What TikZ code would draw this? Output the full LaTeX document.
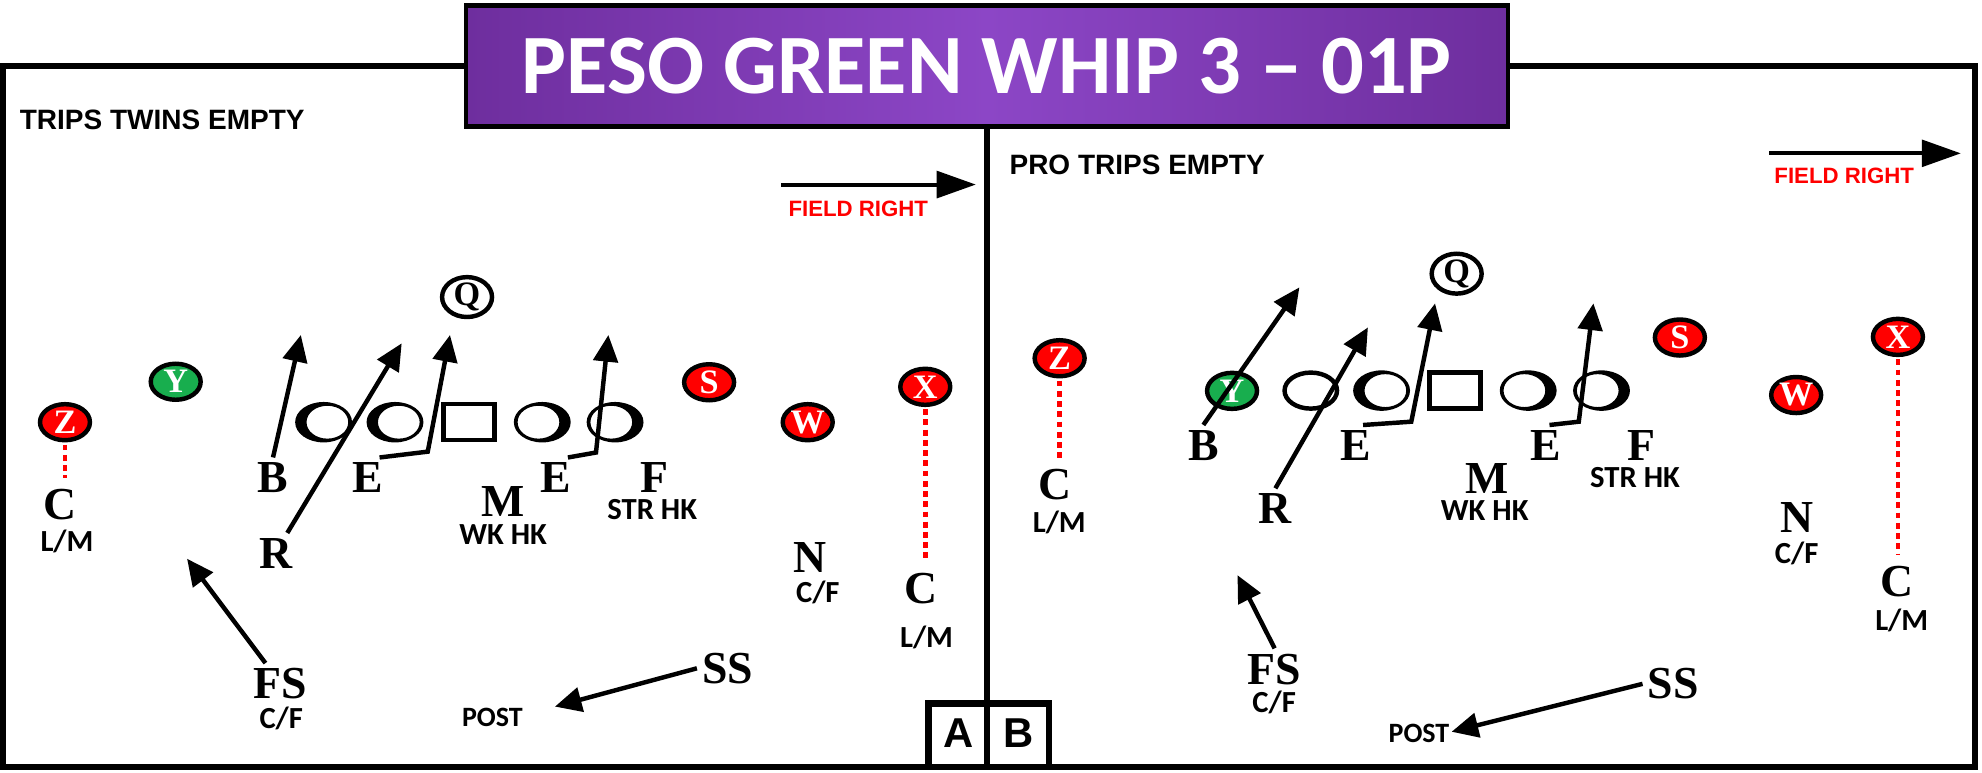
\documentclass[tikz,border=0pt]{standalone}
\usepackage{fontspec}
\usepackage{xcolor}
\usepackage{tikz}
\usetikzlibrary{arrows.meta, positioning, calc, shapes}

\newfontfamily\calfont{Carlito}
\newfontfamily\arialfont{Liberation Sans}
\newfontfamily\timesfont{Liberation Serif}

\definecolor{purpdark}{RGB}{110,46,158}
\definecolor{purplight}{RGB}{140,70,198}
\definecolor{defred}{RGB}{255,0,0}
\definecolor{offgreen}{RGB}{24,174,78}

\begin{document}
\begin{tikzpicture}[x=0.01cm,y=-0.01cm,
    player/.style={ellipse, draw, line width=1pt, minimum width=0.395cm, minimum height=0.285cm, inner sep=0pt, font=\fontsize{7.7}{8}\timesfont\bfseries},
    defender/.style={player, fill=defred, text=white},
    slot/.style={player, fill=offgreen, text=white},
    lineman/.style={ellipse, minimum width=0.45cm, minimum height=0.32cm, inner sep=0pt},
    snapbox/.style={rectangle, draw, line width=1pt, minimum width=0.405cm, minimum height=0.285cm, inner sep=0pt},
    letter/.style={inner sep=1pt, font=\fontsize{10.3}{11}\timesfont\bfseries},
    tag/.style={inner sep=0pt, font=\fontsize{6.9}{7}\calfont\bfseries},
    route/.style={line width=1pt, -{Triangle[length=6pt,width=5.5pt]}},
    fieldarrow/.style={line width=0.9pt, -{Triangle[length=8.8pt,width=6pt]}},
    fieldtag/.style={inner sep=0pt, text=defred, font=\fontsize{5}{6}\arialfont\bfseries},
    formation/.style={inner sep=0pt, anchor=west, font=\fontsize{6.3}{7}\arialfont\bfseries},
    dotline/.style={defred, line width=1.1pt, dash pattern=on 1.3pt off 1pt, shorten <=0.5pt, shorten >=1.5pt},
    frame/.style={line width=1.5pt},
    titlebox/.style={draw, line width=1pt, minimum width=8.24cm, minimum height=0.957cm, left color=purpdark, right color=purpdark, middle color=purplight, text=white, font=\fontsize{19}{20}\calfont\bfseries},
    abtag/.style={inner sep=0pt, font=\fontsize{9.4}{10}\arialfont\bfseries}]

    \useasboundingbox (0,0) rectangle (1568,611);

    % 标题
    \node[titlebox] (title) at (780.75,52.3) {PESO GREEN WHIP 3 – 01P};

    % 外框
    \coordinate (botline) at (0,606.8);
    \draw[frame] (title.west) -- (2.5,52.3) -- (2.5,606.8) -- (1562.5,606.8) -- (1562.5,52.3) -- (title.east);
    \draw[frame] (title.south) -- (title.south |- botline);

    % A / B
    \draw[frame] (734.4,606.8) -- (734.4,556.4) -- (829.8,556.4) -- (829.8,606.8);
    \node[abtag] (boxA) at (758.2,580.2) {A};
    \node[abtag] (boxB) at (805.6,580.2) {B};

    %%%%%%%% 左图
    \node[formation] (lform) at (15,95) {TRIPS TWINS EMPTY};
    \coordinate (lfs) at (618,146);
    \coordinate (lfe) at (772,146);
    \draw[fieldarrow] (lfs) -- (lfe);
    \node[fieldtag] (lfield) at (679,165) {FIELD RIGHT};

    % 进攻
    \node[player, fill=white] (lQ) at (369.5,235) {Q};
    \node[slot] (lY) at (139,302) {Y};
    \node[lineman] (lo1) at (256,334) {};
    \node[lineman] (lo2) at (312.5,334) {};
    \node[snapbox] (lsnap) at (371,334) {};
    \node[lineman] (lo3) at (429,334) {};
    \node[lineman] (lo4) at (486.6,334) {};
    \fill[even odd rule] (lo1.center) ellipse (22.5 and 16) ([xshift=0.03cm]lo1.center) ellipse (16.5 and 13);
    \fill[even odd rule] (lo2.center) ellipse (22.5 and 16) ([xshift=0.03cm]lo2.center) ellipse (16.5 and 13);
    \fill[even odd rule] (lo3.center) ellipse (22.5 and 16) ([xshift=-0.03cm]lo3.center) ellipse (16.5 and 13);
    \fill[even odd rule] (lo4.center) ellipse (22.5 and 16) ([xshift=-0.03cm]lo4.center) ellipse (16.5 and 13);

    % 防守
    \node[defender] (lZ) at (51.4,334) {Z};
    \node[defender] (lS) at (561,302.4) {S};
    \node[defender] (lW) at (639,334) {W};
    \node[defender] (lX) at (732,306) {X};

    \node[letter] (lC1) at (47.5,399.5) {C};
    \node[tag] (lC1t) at (53,428) {L/M};
    \node[letter] (lB) at (216,378) {B};
    \node[letter] (lE1) at (291,378) {E};
    \node[letter] (lR) at (218,437.7) {R};
    \node[letter] (lM) at (398,397) {M};
    \node[tag] (lMt) at (398,422.5) {WK HK};
    \node[letter] (lE2) at (440,378) {E};
    \node[letter] (lF) at (518,378) {F};
    \node[tag] (lFt) at (516,403) {STR HK};
    \node[letter] (lN) at (641,441) {N};
    \node[tag] (lNt) at (647,468.6) {C/F};
    \node[letter] (lC2) at (729,466) {C};
    \node[tag] (lC2t) at (733,504) {L/M};
    \node[letter] (lFS) at (221.5,541) {FS};
    \node[tag] (lFSt) at (222.5,568) {C/F};
    \node[letter] (lSS) at (575.7,528.7) {SS};
    \node[tag, font=\fontsize{6.3}{7}\calfont\bfseries] (lpost) at (389.5,567.5) {POST};

    \draw[dotline] (lZ.south) -- (lZ.south |- lC1.north);
    \draw[dotline] (lX.south) -- (lX.south |- lC2.north);

    % 路线
    \coordinate (lBtip) at (238,265);
    \coordinate (lRtip) at (317.8,271.6);
    \coordinate (lE1k) at (338.4,357.3);
    \coordinate (lE1tip) at (356,265);
    \coordinate (lE2k) at (471.5,358);
    \coordinate (lE2tip) at (481.3,265);
    \coordinate (lFStip) at (148,442);
    \coordinate (lSStip) at (439,559);
    \draw[route] (lB.north) -- (lBtip);
    \draw[route] (lR.60) -- (lRtip);
    \draw[route] (lE1.60) -- (lE1k) -- (lE1tip);
    \draw[route] (lE2.60) -- (lE2k) -- (lE2tip);
    \draw[route] (lFS.125) -- (lFStip);
    \draw[route] (lSS.west) -- (lSStip);

    %%%%%%%% 右图
    \node[formation] (rform) at (798,130.5) {PRO TRIPS EMPTY};
    \coordinate (rfs) at (1399.6,121.3);
    \coordinate (rfe) at (1551.3,121.3);
    \draw[fieldarrow] (rfs) -- (rfe);
    \node[fieldtag] (rfield) at (1459,139) {FIELD RIGHT};

    % 进攻
    \node[player, fill=white] (rQ) at (1152.4,216.5) {Q};
    \node[slot] (rY) at (974.7,309.2) {Y};
    \node[lineman, draw, line width=1pt, minimum width=0.415cm, minimum height=0.285cm] (ro1) at (1037,309) {};
    \node[lineman] (ro2) at (1093,309) {};
    \node[snapbox] (rsnap) at (1151,309) {};
    \node[lineman] (ro3) at (1209,309) {};
    \node[lineman] (ro4) at (1267,309) {};
    \fill[even odd rule] (ro2.center) ellipse (22.5 and 16) ([xshift=0.03cm]ro2.center) ellipse (16.5 and 13);
    \fill[even odd rule] (ro3.center) ellipse (22.5 and 16) ([xshift=-0.03cm]ro3.center) ellipse (16.5 and 13);
    \fill[even odd rule] (ro4.center) ellipse (22.5 and 16) ([xshift=-0.03cm]ro4.center) ellipse (16.5 and 13);

    % 防守
    \node[defender] (rZ) at (838.3,283.4) {Z};
    \node[defender] (rS) at (1329,267) {S};
    \node[defender] (rX) at (1501.5,266.5) {X};
    \node[defender] (rW) at (1421,312.5) {W};

    \node[letter] (rC1) at (835,383.7) {C};
    \node[tag] (rC1t) at (838,413) {L/M};
    \node[letter] (rB) at (952,352.3) {B};
    \node[letter] (rE1) at (1072.5,352.3) {E};
    \node[letter] (rE2) at (1223,352.3) {E};
    \node[letter] (rF) at (1299,352.8) {F};
    \node[tag] (rFt) at (1293.5,377.7) {STR HK};
    \node[letter] (rR) at (1009,402.4) {R};
    \node[letter] (rM) at (1176.7,378.4) {M};
    \node[tag] (rMt) at (1174.6,403.7) {WK HK};
    \node[letter] (rN) at (1422,409.4) {N};
    \node[tag] (rNt) at (1421.4,437.7) {C/F};
    \node[letter] (rC2) at (1500.5,460.2) {C};
    \node[tag] (rC2t) at (1504.5,491.2) {L/M};
    \node[letter] (rFS) at (1008.4,529.3) {FS};
    \node[tag] (rFSt) at (1008,555.4) {C/F};
    \node[letter] (rSS) at (1323.8,541) {SS};
    \node[tag, font=\fontsize{6.3}{7}\calfont\bfseries] (rpost) at (1122.6,580.5) {POST};

    \draw[dotline] (rZ.south) -- (rZ.south |- rC1.north);
    \draw[dotline] (rX.south) -- (rX.south |- rC2.north);

    % 路线
    \coordinate (rBtip) at (1028,227.3);
    \coordinate (rRtip) at (1082.2,259);
    \coordinate (rE1k) at (1116.5,333.6);
    \coordinate (rE1tip) at (1135.3,240);
    \coordinate (rE2k) at (1249,333.6);
    \coordinate (rE2tip) at (1260.6,240);
    \coordinate (rFStip) at (979,455);
    \coordinate (rSStip) at (1148.4,578.9);
    \draw[route] (rB.north) -- (rBtip);
    \draw[route] (rR.north) -- (rRtip);
    \draw[route] (rE1.70) -- (rE1k) -- (rE1tip);
    \draw[route] (rE2.80) -- (rE2k) -- (rE2tip);
    \draw[route] (rFS.north) -- (rFStip);
    \draw[route] (rSS.west) -- (rSStip);

\end{tikzpicture}
\end{document}
